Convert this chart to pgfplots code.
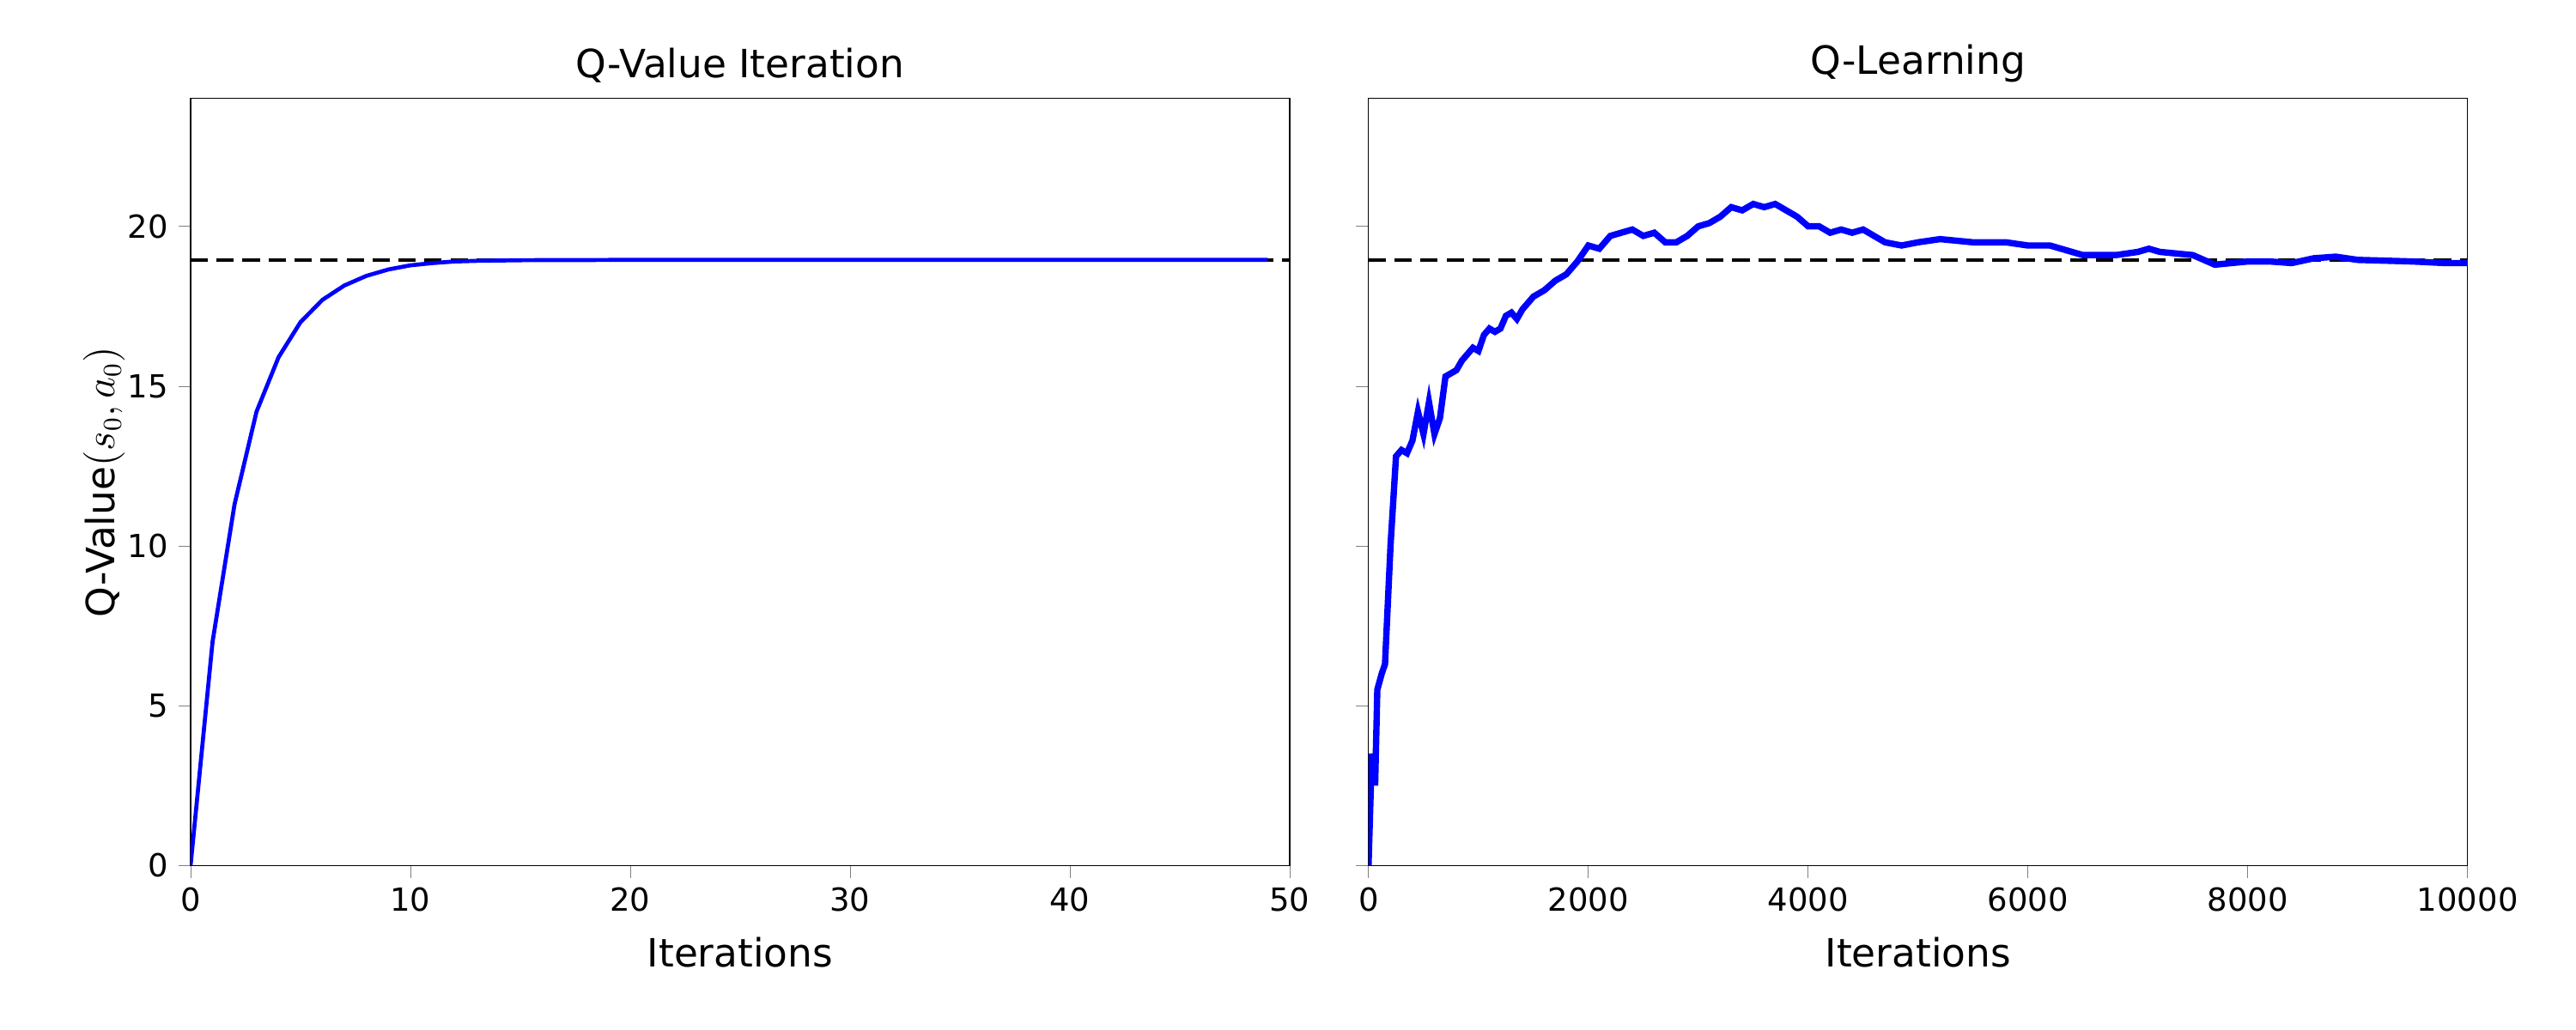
\documentclass[border=0pt]{standalone}
\usepackage{pgfplots}
\pgfplotsset{compat=1.18}
\usepackage{fontspec}
\setmainfont{DejaVu Sans}
\begin{document}
\begin{tikzpicture}
\path[use as bounding box] (0,0) rectangle (31.36cm,12.54cm);
\pgfplotsset{myax/.style={scale only axis, width=13.38cm, height=9.34cm, anchor=south west,
 ymin=0, ymax=24, ytick={0,5,10,15,20}, tick align=outside, xtick pos=bottom, ytick pos=left,
 /pgf/number format/assume math mode=true, tick label style={font=\fontsize{11}{13}\selectfont},
 label style={font=\fontsize{13.5}{16}\selectfont}, title style={font=\fontsize{13.5}{16}\selectfont, yshift=-4pt},
 xlabel style={yshift=-2pt}, ylabel style={yshift=-6pt},
 xlabel={Iterations}, scaled x ticks=false, xticklabel style={/pgf/number format/1000 sep={}}}}
\begin{axis}[myax, at={(2.32cm,2.0cm)}, xmin=0, xmax=50, xtick={0,10,...,50}, title={Q-Value Iteration}, ylabel={Q-Value$(s_0,a_0)$}]
\addplot[black, dash pattern=on 6pt off 3pt, line width=1.2pt] coordinates {(0,18.95) (50,18.95)};
\addplot[blue, line width=1.4pt] coordinates {(0,0) (1,7.0) (2,11.3) (3,14.2) (4,15.9) (5,17.0) (6,17.7) (7,18.15) (8,18.45) (9,18.65) (10,18.78) (11,18.85) (12,18.9) (13,18.92) (15,18.94) (20,18.95) (49,18.95)};
\end{axis}
\begin{axis}[myax, at={(16.66cm,2.0cm)}, xmin=0, xmax=10000, xtick={0,2000,...,10000}, title={Q-Learning}, yticklabels={}]
\addplot[black, dash pattern=on 6pt off 3pt, line width=1.2pt] coordinates {(0,18.95) (10000,18.95)};
\addplot[blue, line width=2.2pt] coordinates {(0,0) (30,3.5) (60,2.5) (80,5.5) (120,6) (150,6.3) (200,10) (250,12.8) (300,13) (350,12.9) (400,13.3) (450,14.2) (500,13.5) (550,14.5) (600,13.5) (650,14) (700,15.3) (800,15.5) (850,15.8) (900,16) (950,16.2) (1000,16.1) (1050,16.6) (1100,16.8) (1150,16.7) (1200,16.8) (1250,17.2) (1300,17.3) (1350,17.1) (1400,17.4) (1500,17.8) (1600,18) (1700,18.3) (1800,18.5) (1900,18.9) (2000,19.4) (2100,19.3) (2200,19.7) (2300,19.8) (2400,19.9) (2500,19.7) (2600,19.8) (2700,19.5) (2800,19.5) (2900,19.7) (3000,20) (3100,20.1) (3200,20.3) (3300,20.6) (3400,20.5) (3500,20.7) (3600,20.6) (3700,20.7) (3800,20.5) (3900,20.3) (4000,20.0) (4100,20) (4200,19.8) (4300,19.9) (4400,19.8) (4500,19.9) (4700,19.5) (4850,19.4) (5000,19.5) (5200,19.6) (5500,19.5) (5800,19.5) (6000,19.4) (6200,19.4) (6500,19.1) (6800,19.1) (7000,19.2) (7100,19.3) (7200,19.2) (7500,19.1) (7700,18.8) (8000,18.9) (8200,18.9) (8400,18.85) (8600,19.0) (8800,19.05) (9000,18.95) (9500,18.9) (9800,18.85) (10000,18.85)};
\end{axis}
\end{tikzpicture}
\end{document}
